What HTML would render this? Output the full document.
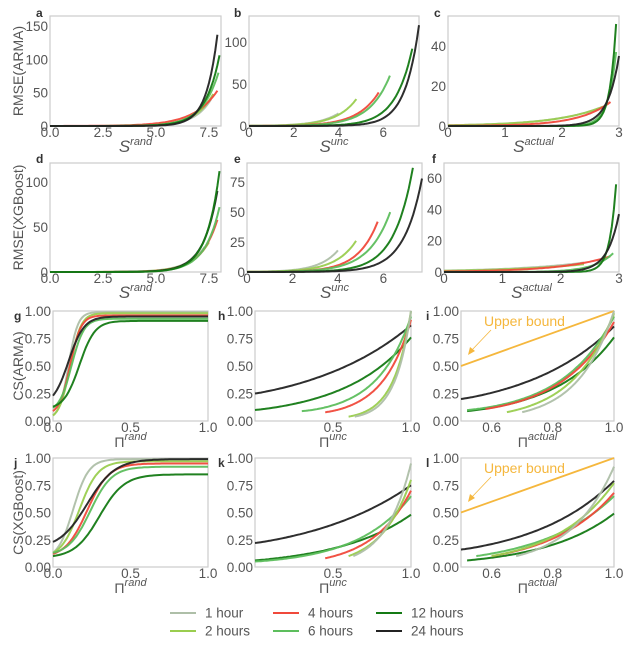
<!DOCTYPE html>
<html><head><meta charset="utf-8"><style>
body{margin:0;background:#fff}
svg{display:block;font-family:"Liberation Sans",sans-serif}
.t{font-size:13.5px;fill:#555}
.g{font-size:12.5px;fill:#555}
.l{font-size:14px;fill:#555}
.b{font-size:12px;font-weight:bold;fill:#333}
</style></head><body>
<svg id="s" width="640" height="650" viewBox="0 0 640 650" xmlns="http://www.w3.org/2000/svg"></svg>
<script>
const C={h1:"#aebfa8",h2:"#9acd4f",h4:"#f0493b",h6:"#5dbe5d",h12:"#147a14",h24:"#232323"};
const S=document.getElementById('s');let out='';
function panel(o){
 const {L,R,T,B,x0,x1,y0,y1}=o;
 const X=v=>L+(v-x0)/(x1-x0)*(R-L), Y=v=>B-(v-y0)/(y1-y0)*(B-T);
 out+=`<rect x="${L}" y="${T}" width="${R-L}" height="${B-T}" fill="none" stroke="#ccc" stroke-width="1.2"/>`;
 o.xt.forEach(v=>{out+=`<text class="t" x="${X(v[0])}" y="${B+11}" text-anchor="middle">${v[1]}</text>`});
 o.yt.forEach(v=>{out+=`<text class="t" x="${L-2}" y="${Y(v[0])+5}" text-anchor="end">${v[1]}</text>`});
 out+=`<text class="b" x="${o.lx}" y="${o.ly}">${o.let}</text>`;
 out+=`<text class="l" x="${(L+R)/2}" y="${B+26}" text-anchor="middle" font-size="15">${o.xl}</text>`;
 if(o.yl) out+=`<text class="l" transform="translate(23,${(T+B)/2}) rotate(-90)" text-anchor="middle">${o.yl}</text>`;
 if(o.ub){out+=`<line x1="${X(.5)}" y1="${Y(.5)}" x2="${X(1)}" y2="${Y(1)}" stroke="#f5b73d" stroke-width="1.8"/>`;
  out+=`<text x="${L+23}" y="${T+15}" font-size="14" fill="#f5b73d">Upper bound</text>`;
  out+=`<line x1="${L+30}" y1="${T+19}" x2="${L+10}" y2="${T+40}" stroke="#f5b73d" stroke-width="0.8"/><polygon points="${L+7},${T+44} ${L+9},${T+36} ${L+14},${T+40}" fill="#f5b73d"/>`;}
 o.s.forEach(c=>{let d='';const n=80;for(let i=0;i<=n;i++){const x=c.a+(c.e-c.a)*i/n;const y=c.f(x);d+=(i?'L':'M')+X(x).toFixed(1)+','+Y(y).toFixed(1);}
  out+=`<path d="${d}" fill="none" stroke="${C[c.c]}" stroke-width="2" opacity="0.95"/>`;});
}
const ex=(xe,ye,k,b=0)=>x=>b+(ye-b)*Math.exp(k*(x-xe));
const E=(c,xa,xe,ye,k)=>({c,a:xa,e:xe,f:ex(xe,ye,k)});
const sg=(lo,hi,m,s)=>x=>{const g=v=>1/(1+Math.exp(-(v-m)/s));return lo+(hi-lo)*(g(x)-g(0))/(1-g(0));};
const G=(c,lo,hi,m,s)=>({c,a:0,e:1,f:sg(lo,hi,m,s)});
const X2=(c,xa,ya,yb,p=1)=>({c,a:xa,e:1,f:x=>{const t=(x-xa)/(1-xa);return ya*Math.pow(yb/ya,Math.pow(t,p));}});
const S1=(s)=>`<tspan font-style="italic" font-size="17">S</tspan><tspan dy="-7" font-style="italic" font-size="11">${s}</tspan>`;
const P1=(s)=>`Π<tspan dy="-7" font-style="italic" font-size="11">${s}</tspan>`;
const xa=[[0,'0.0'],[2.5,'2.5'],[5,'5.0'],[7.5,'7.5']], xb=[[0,'0'],[2,'2'],[4,'4'],[6,'6']], xc=[[0,'0'],[1,'1'],[2,'2'],[3,'3']];
const yc=[[0,'0.00'],[.25,'0.25'],[.5,'0.50'],[.75,'0.75'],[1,'1.00']];
panel({L:50,R:221,T:16,B:126,x0:0,x1:8.07,y0:0,y1:165,xt:xa,yt:[[0,'0'],[50,'50'],[100,'100'],[150,'150']],let:'a',lx:36,ly:17,xl:S1('rand'),yl:'RMSE(ARMA)',
 s:[E('h1',0,7.6,40,1.3),E('h2',0,7.7,48,1.2),E('h4',0,7.9,53,0.9),E('h6',0,7.95,80,1.3),E('h12',0,8.0,106,1.5),E('h24',0,7.9,137,1.9)]});
panel({L:249,R:419,T:16,B:126,x0:0,x1:7.6,y0:0,y1:131,xt:xb,yt:[[0,'0'],[50,'50'],[100,'100']],let:'b',lx:234,ly:17,xl:S1('unc'),
 s:[E('h1',0,4.0,15,1.1),E('h2',0,4.8,32,1.1),E('h4',0,5.8,40,1.05),E('h6',0,6.3,60,1.1),E('h12',0,7.3,92,1.3),E('h24',0,7.6,120,1.6)]});
panel({L:448,R:619,T:16,B:126,x0:0,x1:3,y0:0,y1:55,xt:xc,yt:[[0,'0'],[20,'20'],[40,'40']],let:'c',lx:434,ly:17,xl:S1('actual'),
 s:[E('h1',0,2.7,9.5,1.2),E('h2',0,2.75,10,1.2),E('h4',0,2.85,12,1.8),E('h6',0,2.95,37,7),E('h12',0,2.95,51,9),E('h24',0,3.0,35,5)]});
panel({L:50,R:221,T:163,B:272,x0:0,x1:8.07,y0:0,y1:121,xt:xa,yt:[[0,'0'],[50,'50'],[100,'100']],let:'d',lx:36,ly:163,xl:S1('rand'),yl:'RMSE(XGBoost)',
 s:[E('h1',0,7.3,28,1.2),E('h2',0,7.5,33,1.2),E('h4',0,7.9,58,1.3),E('h6',0,8.0,72,1.4),E('h24',0,7.9,90,1.5),E('h12',0,8.0,112,1.6)]});
panel({L:247,R:422,T:163,B:272,x0:0,x1:7.7,y0:0,y1:91,xt:xb,yt:[[0,'0'],[25,'25'],[50,'50'],[75,'75']],let:'e',lx:234,ly:163,xl:S1('unc'),
 s:[E('h1',0,4.0,18,1.2),E('h2',0,4.8,26,1.1),E('h4',0,5.75,42,1.15),E('h6',0,6.3,50,1.05),E('h12',0,7.3,87,1.2),E('h24',0,7.7,78,1.25)]});
panel({L:444,R:619,T:163,B:272,x0:0,x1:3,y0:0,y1:69.6,xt:xc,yt:[[0,'0'],[20,'20'],[40,'40'],[60,'60']],let:'f',lx:432,ly:163,xl:S1('actual'),
 s:[E('h1',0,2.4,6,0.8),E('h2',0,2.4,5,0.8),E('h4',0,2.85,10,1.2),E('h6',0,2.9,12,3),E('h12',0,2.95,56,9),E('h24',0,3.0,37,5)]});
panel({L:53,R:208,T:311,B:421,x0:0,x1:1,y0:0,y1:1,xt:[[0,'0.0'],[.5,'0.5'],[1,'1.0']],yt:yc,let:'g',lx:14,ly:320,xl:P1('rand'),yl:'CS(ARMA)',
 s:[G('h1',.05,.99,.1,.03),G('h2',.05,.98,.11,.035),G('h4',.09,.96,.11,.035),G('h6',.12,.93,.12,.04),G('h12',.13,.91,.17,.05),G('h24',.23,.95,.1,.05)]});
panel({L:255,R:411,T:311,B:421,x0:0,x1:1,y0:0,y1:1,xt:[[.5,'0.5'],[1,'1.0']],yt:yc,let:'h',lx:218,ly:320,xl:P1('unc'),
 s:[X2('h24',0,.25,.87,1.1),X2('h12',0,.1,.76,1.1),X2('h6',.3,.09,.95,1.3),X2('h4',.45,.08,.92,1.2),X2('h2',.6,.04,1,1.1),X2('h1',.64,.04,1,1.1)]});
panel({L:461,R:614,T:311,B:421,x0:.5,x1:1,y0:0,y1:1,xt:[[.6,'0.6'],[.8,'0.8'],[1,'1.0']],yt:yc,let:'i',lx:426,ly:320,xl:P1('actual'),ub:1,
 s:[X2('h24',.5,.2,.86,1.1),X2('h12',.52,.09,.76,1.1),X2('h6',.52,.1,.95,1.2),X2('h4',.58,.11,.9,1.1),X2('h2',.65,.08,.98,1),X2('h1',.7,.08,1,1)]});
panel({L:53,R:208,T:458,B:567,x0:0,x1:1,y0:0,y1:1,xt:[[0,'0.0'],[.5,'0.5'],[1,'1.0']],yt:yc,let:'j',lx:14,ly:467,xl:P1('rand'),yl:'CS(XGBoost)',
 s:[G('h1',.13,.99,.13,.05),G('h2',.13,.97,.17,.06),G('h4',.12,.95,.22,.07),G('h6',.13,.92,.24,.07),G('h12',.1,.85,.3,.08),G('h24',.23,.99,.22,.09)]});
panel({L:255,R:411,T:458,B:567,x0:0,x1:1,y0:0,y1:1,xt:[[.5,'0.5'],[1,'1.0']],yt:yc,let:'k',lx:218,ly:467,xl:P1('unc'),
 s:[X2('h24',0,.22,.75,1.1),X2('h12',0,.06,.48,1),X2('h6',0,.05,.65,1.1),X2('h4',.45,.08,.7,1),X2('h2',.6,.1,.8,1),X2('h1',.63,.1,.95,1)]});
panel({L:461,R:614,T:458,B:567,x0:.5,x1:1,y0:0,y1:1,xt:[[.6,'0.6'],[.8,'0.8'],[1,'1.0']],yt:yc,let:'l',lx:426,ly:467,xl:P1('actual'),ub:1,
 s:[X2('h24',.5,.16,.79,1.1),X2('h12',.52,.06,.49,1),X2('h6',.55,.1,.65,1),X2('h4',.6,.1,.68,1),X2('h2',.6,.1,.77,1),X2('h1',.68,.1,.92,1)]});
[['h1','1 hour',170,613],['h2','2 hours',170,631],['h4','4 hours',273,613],['h6','6 hours',273,631],['h12','12 hours',376,613],['h24','24 hours',376,631]].forEach(a=>{
 out+=`<line x1="${a[2]}" y1="${a[3]}" x2="${a[2]+26}" y2="${a[3]}" stroke="${C[a[0]]}" stroke-width="2"/><text class="t" x="${a[2]+35}" y="${a[3]+4.5}">${a[1]}</text>`;});
S.innerHTML=out;
</script>
</body></html>
